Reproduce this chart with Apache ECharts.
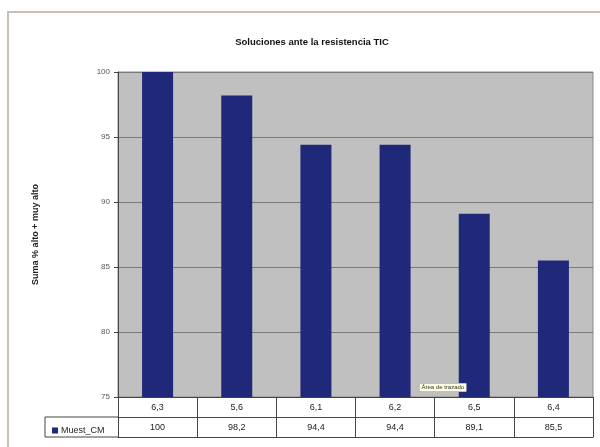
<!DOCTYPE html>
<html>
<head>
<meta charset="utf-8">
<script src="https://cdn.jsdelivr.net/npm/echarts@6/dist/echarts.min.js"></script>
<style>
  html, body { margin: 0; padding: 0; background: #fff; }
  #chart { width: 600px; height: 447px; }
</style>
</head>
<body>
<div id="chart"></div>
<script>
// datos
const categorias = ["6,3", "5,6", "6,1", "6,2", "6,5", "6,4"];
const muestCM = [100, 98.2, 94.4, 94.4, 89.1, 85.5];
const serieNombre = "Muest_CM";
const yMin = 75, yMax = 100, yPaso = 5;

const fmt = v => String(v).replace(".", ",");
const fuente = "Liberation Sans";

const chart = echarts.init(document.getElementById("chart"));
chart.setOption({
  animation: false,
  textStyle: { fontFamily: fuente },
  title: {
    text: "Soluciones ante la resistencia TIC",
    left: 307, top: 32, textAlign: "center",
    textStyle: { fontSize: 9.5, fontWeight: "bold", color: "#111", fontFamily: fuente }
  },
  legend: {
    data: [serieNombre],
    left: 47, top: 421,
    itemWidth: 6, itemHeight: 6, itemGap: 2,
    icon: "rect",
    textStyle: { fontSize: 9, color: "#222", padding: [0, 0, 0, -2] }
  },
  grid: {
    left: 118, right: 7, top: 72, bottom: 50,
    show: true, backgroundColor: "#c0c0c0", borderColor: "#8a8a8a", borderWidth: 1
  },
  xAxis: [
    {
      type: "category", data: categorias, position: "bottom",
      axisLine: { lineStyle: { color: "#444" } },
      axisTick: { show: true, length: 40, lineStyle: { color: "#444" } },
      axisLabel: { fontSize: 9, color: "#222", margin: 6 }
    },
    {
      type: "category", data: muestCM.map(fmt), position: "bottom", offset: 20,
      axisLine: { lineStyle: { color: "#444" } },
      axisTick: { show: false },
      axisLabel: { fontSize: 9, color: "#222", margin: 6 }
    },
    {
      type: "category", data: categorias, position: "bottom", offset: 40,
      axisLine: { lineStyle: { color: "#444" } },
      axisTick: { show: false },
      axisLabel: { show: false }
    }
  ],
  yAxis: {
    type: "value", min: yMin, max: yMax, interval: yPaso,
    name: "Suma % alto + muy alto",
    nameLocation: "middle", nameGap: 78, nameRotate: 90,
    nameTextStyle: { fontSize: 9, fontWeight: "bold", color: "#222" },
    axisLine: { show: true, lineStyle: { color: "#444" } },
    axisTick: { show: true, length: 4, lineStyle: { color: "#444" } },
    axisLabel: { fontSize: 8, color: "#555", margin: 8 },
    splitLine: { lineStyle: { color: "#7a7a7a", width: 1 } }
  },
  series: [{
    name: serieNombre, type: "bar", data: muestCM,
    xAxisIndex: 0, barWidth: 31,
    itemStyle: { color: "#20287a" }
  }],
  graphic: [
    { type: "rect", shape: { x: 8, y: 12, width: 600, height: 450 },
      style: { fill: "none", stroke: "#c8c0b6", lineWidth: 2 }, silent: true },
    { type: "line", shape: { x1: 45, y1: 417, x2: 118, y2: 417 }, style: { stroke: "#444" } },
    { type: "line", shape: { x1: 45, y1: 437, x2: 118, y2: 437 }, style: { stroke: "#444" } },
    { type: "line", shape: { x1: 45, y1: 417, x2: 45, y2: 437 }, style: { stroke: "#444" } },
    { type: "text", left: 419, top: 383, z: 100,
      style: { text: "Área de trazado", fontSize: 6, fill: "#333",
        backgroundColor: "#ffffe1", borderColor: "#888", borderWidth: 0.5, padding: [1, 2] } }
  ]
});
</script>
</body>
</html>
